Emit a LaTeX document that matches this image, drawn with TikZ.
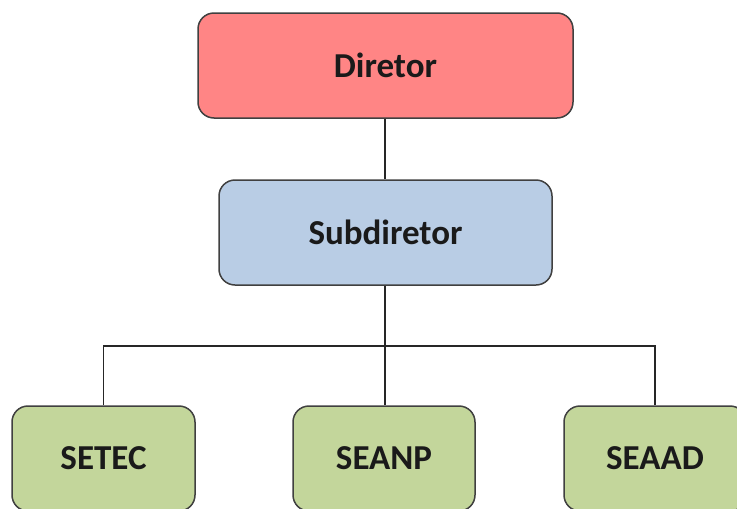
\documentclass[tikz,border=0pt]{standalone}
\usepackage{fontspec}
\setmainfont{Carlito}
\definecolor{boxred}{HTML}{FF8585}
\definecolor{boxblue}{HTML}{B9CDE5}
\definecolor{boxgreen}{HTML}{C3D69B}
\definecolor{edgegray}{HTML}{404040}
\definecolor{txt}{HTML}{1A1A1A}
\tikzset{
  orgbox/.style={draw=edgegray, line width=1.5pt, rounded corners=16pt, inner sep=0pt,
    minimum height=105pt, text=txt, font=\fontsize{35}{40}\selectfont\bfseries},
  link/.style={draw=black!85, line width=1.8pt}
}
\begin{document}
\begin{tikzpicture}[x=1pt,y=-1pt]
\useasboundingbox (0,0) rectangle (737,509);
\clip (0,0) rectangle (737,509);
\fill[white] (0,0) rectangle (737,509);
\node[orgbox, fill=boxred, minimum width=375pt] (dir) at (385.5,65.5) {Diretor};
\node[orgbox, fill=boxblue, minimum width=333pt] (sub) at (385.5,232.5) {Subdiretor};
\node[orgbox, fill=boxgreen, minimum width=183pt] (setec) at (103.5,458.5) {SETEC};
\node[orgbox, fill=boxgreen, minimum width=182pt] (seanp) at (384,458.5) {SEANP};
\node[orgbox, fill=boxgreen, minimum width=182pt] (seaad) at (655,458.5) {SEAAD};
\coordinate (bus) at (385,346);
\draw[link] (dir.south -| bus) -- (sub.north -| bus);
\draw[link] (sub.south -| bus) -- (bus) -- (seanp.north -| bus);
\draw[link] (setec.north) |- (bus) -| (seaad.north);
\end{tikzpicture}
\end{document}
